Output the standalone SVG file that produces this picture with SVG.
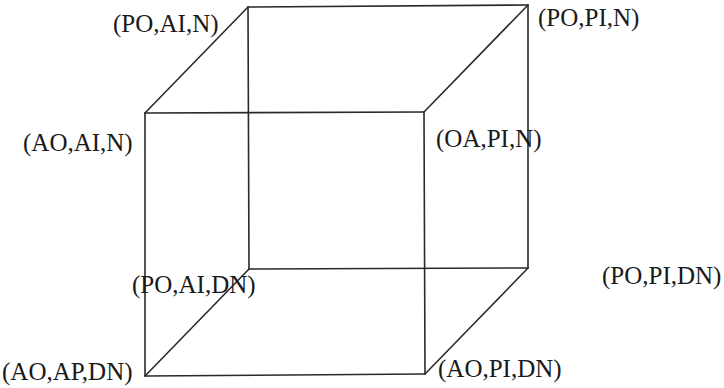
<svg xmlns="http://www.w3.org/2000/svg" width="724" height="388" viewBox="0 0 724 388">
  <style>
    .edge { stroke: #2a2a2a; stroke-width: 1.6; fill: none; stroke-linecap: round; }
    .lbl { font-family: "Liberation Serif", "Times New Roman", serif; font-size: 25px; fill: #1a1a1a; }
  </style>
  <rect width="724" height="388" fill="#ffffff"/>
  <g id="connectors">
    <!-- back face -->
    <line class="edge" x1="248" y1="7" x2="528" y2="5"/>
    <line class="edge" x1="248" y1="7" x2="249" y2="269"/>
    <line class="edge" x1="528" y1="5" x2="528" y2="268"/>
    <line class="edge" x1="249" y1="269" x2="528" y2="268"/>
    <!-- front face -->
    <line class="edge" x1="145" y1="113" x2="424" y2="112"/>
    <line class="edge" x1="145" y1="113" x2="145" y2="376"/>
    <line class="edge" x1="424" y1="112" x2="425" y2="374"/>
    <line class="edge" x1="145" y1="376" x2="425" y2="374"/>
    <!-- depth edges -->
    <line class="edge" x1="145" y1="113" x2="248" y2="7"/>
    <line class="edge" x1="424" y1="112" x2="528" y2="5"/>
    <line class="edge" x1="145" y1="376" x2="249" y2="269"/>
    <line class="edge" x1="425" y1="374" x2="528" y2="268"/>
  </g>
  <g id="n-po-ai-n"><text class="lbl" x="113" y="32">(PO,AI,N)</text></g>
  <g id="n-po-pi-n"><text class="lbl" x="538" y="26">(PO,PI,N)</text></g>
  <g id="n-ao-ai-n"><text class="lbl" x="23" y="151">(AO,AI,N)</text></g>
  <g id="n-oa-pi-n"><text class="lbl" x="436" y="147">(OA,PI,N)</text></g>
  <g id="n-po-ai-dn"><text class="lbl" x="132" y="293">(PO,AI,DN)</text></g>
  <g id="n-po-pi-dn"><text class="lbl" x="602" y="284">(PO,PI,DN)</text></g>
  <g id="n-ao-ap-dn"><text class="lbl" x="2" y="380">(AO,AP,DN)</text></g>
  <g id="n-ao-pi-dn"><text class="lbl" x="438" y="377">(AO,PI,DN)</text></g>
</svg>
